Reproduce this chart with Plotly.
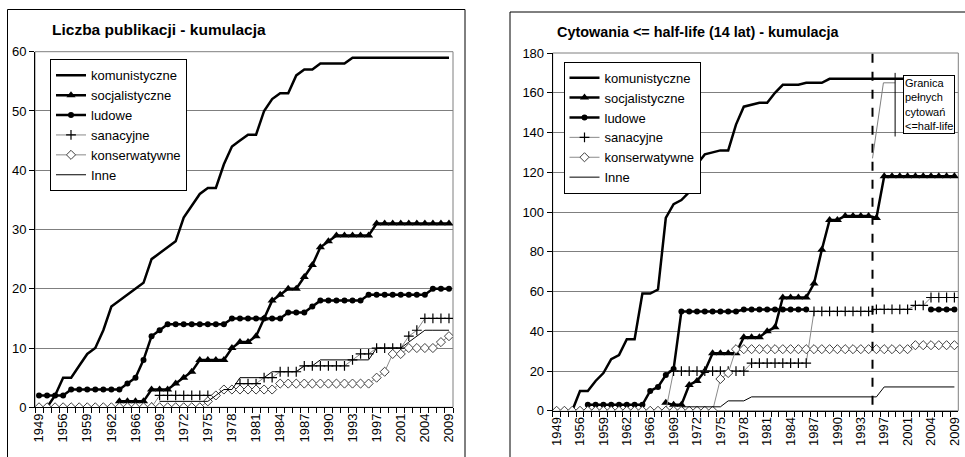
import plotly.graph_objects as go

# ---------------- data ----------------
years = ["1949", "1951", "1954", "1956", "1957", "1958", "1959", "1960", "1961", "1962",
         "1963", "1965", "1966", "1967", "1968", "1969", "1970", "1971", "1972", "1973",
         "1974", "1975", "1976", "1977", "1978", "1979", "1980", "1981", "1982", "1983",
         "1984", "1985", "1986", "1987", "1988", "1989", "1990", "1991", "1992", "1993",
         "1995", "1996", "1997", "1998", "2000", "2001", "2002", "2003", "2004", "2006",
         "2007", "2009"]
labeled_years = ["1949", "1956", "1959", "1962", "1966", "1969", "1972", "1975", "1978",
                 "1981", "1984", "1987", "1990", "1993", "1997", "2001", "2004", "2009"]
series_names = ["komunistyczne", "socjalistyczne", "ludowe", "sanacyjne", "konserwatywne", "Inne"]

N = None
# Left chart: Liczba publikacji - kumulacja
pub_komunistyczne = [N, 0, 2, 5, 5, 7, 9, 10, 13, 17, 18, 19, 20, 21, 25, 26, 27, 28, 32, 34,
                     36, 37, 37, 41, 44, 45, 46, 46, 50, 52, 53, 53, 56, 57, 57, 58, 58, 58, 58, 59,
                     59, 59, 59, 59, 59, 59, 59, 59, 59, 59, 59, 59]
pub_socjalistyczne = [N, N, N, N, N, N, N, N, N, N, 1, 1, 1, 1, 3, 3, 3, 4, 5, 6,
                      8, 8, 8, 8, 10, 11, 11, 12, 15, 18, 19, 20, 20, 22, 24, 27, 28, 29, 29, 29,
                      29, 29, 31, 31, 31, 31, 31, 31, 31, 31, 31, 31]
pub_ludowe = [2, 2, 2, 2, 3, 3, 3, 3, 3, 3, 3, 4, 5, 8, 12, 13, 14, 14, 14, 14,
              14, 14, 14, 14, 15, 15, 15, 15, 15, 15, 15, 16, 16, 16, 17, 18, 18, 18, 18, 18,
              18, 19, 19, 19, 19, 19, 19, 19, 19, 20, 20, 20]
pub_sanacyjne = [N, N, N, N, N, N, N, N, N, N, N, N, N, N, 0, 2, 2, 2, 2, 2,
                 2, 2, N, N, N, 4, 4, 4, 5, 5, 6, 6, 6, 7, 7, 7, 7, 7, 7, 8,
                 9, 9, 10, 10, 10, 10, 12, 13, 15, 15, 15, 15]
pub_konserwatywne = [0, 0, 0, 0, 0, 0, 0, 0, 0, 0, 0, 0, 0, 0, 0, 0, 0, 0, 0, 0,
                     0, 1, 2, 3, 3, 3, 3, 3, 3, 3, 4, 4, 4, 4, 4, 4, 4, 4, 4, 4,
                     4, 4, 5, 6, 9, 9, 10, 10, 10, 10, 11, 12]
pub_inne = [N, N, N, N, N, N, N, N, N, N, N, N, N, N, N, 1, 1, 1, 1, 1,
            1, 1, 2, 3, 3, 5, 5, 5, 5, 6, 6, 6, 6, 7, 7, 8, 8, 8, 8, 8,
            8, 8, 10, 10, 10, 10, 11, 12, 13, 13, 13, 13]

# Right chart: Cytowania <= half-life (14 lat) - kumulacja
cit_komunistyczne = [N, N, 0, 10, 10, 15, 19, 26, 28, 36, 36, 59, 59, 61, 97, 104, 106, 110, 124, 129,
                     130, 131, 131, 144, 153, 154, 155, 155, 160, 164, 164, 164, 165, 165, 165, 167, 167, 167, 167, 167,
                     167, 167, 167, 167, 167, 167, 167, 167, 167, 167, 167, 167]
cit_socjalistyczne = [N, N, N, N, N, N, N, N, N, N, N, N, N, N, 4, 3, 3, 13, 15, 20,
                      29, 29, 29, 29, 37, 37, 37, 40, 42, 57, 57, 57, 57, 64, 81, 96, 96, 98, 98, 98,
                      98, 97, 118, 118, 118, 118, 118, 118, 118, 118, 118, 118]
cit_ludowe = [N, N, N, N, 3, 3, 3, 3, 3, 3, 3, 3, 10, 12, 18, 21, 50, 50, 50, 50,
              50, 50, 50, 50, 51, 51, 51, 51, 51, 51, 51, 51, 51, N, N, N, N, N, N, N,
              N, N, N, N, N, N, N, N, 51, 51, 51, 51]
cit_sanacyjne = [N, N, N, N, N, N, N, N, N, N, N, N, N, N, 0, 20, 20, 20, 20, 20,
                 20, 20, 20, 20, 20, 24, 24, 24, 24, 24, 24, 24, 24, 50, 50, 50, 50, 50, 50, 50,
                 50, 51, 51, 51, 51, 51, 53, 53, 57, 57, 57, 57]
cit_konserwatywne = [0, 0, 0, 0, 0, 0, 0, 0, 0, 0, 0, 0, 0, 0, 0, 0, 0, 0, 0, 0,
                     0, 16, 19, 31, 31, 31, 31, 31, 31, 31, 31, 31, 31, 31, 31, 31, 31, 31, 31, 31,
                     31, 31, 31, 31, 31, 31, 33, 33, 33, 33, 33, 33]
cit_inne = [N, N, N, N, N, N, N, N, N, N, N, N, N, N, N, N, 2, 2, 2, 2,
            2, 2, 5, 5, 5, 7, 7, 7, 7, 7, 7, 7, 7, 7, 7, 7, 7, 7, 7, 7,
            7, 7, 12, 12, 12, 12, 12, 12, 12, 12, 12, 12]

pub_series = [pub_komunistyczne, pub_socjalistyczne, pub_ludowe, pub_sanacyjne, pub_konserwatywne, pub_inne]
cit_series = [cit_komunistyczne, cit_socjalistyczne, cit_ludowe, cit_sanacyjne, cit_konserwatywne, cit_inne]

left_title = "Liczba publikacji - kumulacja"
right_title = "Cytowania &lt;= half-life (14 lat) - kumulacja"
note_text = "Granica<br>pełnych<br>cytowań<br>&lt;=half-life"

# ---------------- styles ----------------
FONT = "Liberation Sans, Arial, sans-serif"
W, H = 965, 457
styles = {
    "komunistyczne": dict(mode="lines", line=dict(color="black", width=2.5)),
    "socjalistyczne": dict(mode="lines+markers", line=dict(color="black", width=2.5),
                           marker=dict(symbol="triangle-up", size=8, color="black")),
    "ludowe": dict(mode="lines+markers", line=dict(color="black", width=2.5),
                   marker=dict(symbol="circle", size=6, color="black")),
    "sanacyjne": dict(mode="lines+markers", line=dict(color="#8a8a8a", width=1),
                      marker=dict(symbol="cross-thin", size=7, color="black",
                                  line=dict(color="black", width=1.2))),
    "konserwatywne": dict(mode="lines+markers", line=dict(color="#8a8a8a", width=1),
                          marker=dict(symbol="diamond", size=7, color="white",
                                      line=dict(color="#404040", width=1))),
    "Inne": dict(mode="lines", line=dict(color="black", width=1)),
}

fig = go.Figure()
for name, y in zip(series_names, pub_series):
    fig.add_trace(go.Scatter(x=years, y=y, name=name, xaxis="x", yaxis="y",
                             legend="legend", **styles[name]))
for name, y in zip(series_names, cit_series):
    fig.add_trace(go.Scatter(x=years, y=y, name=name, xaxis="x2", yaxis="y2",
                             legend="legend2", **styles[name]))

ticktext = [yr if yr in labeled_years else "" for yr in years]

def xax(domain, anchor):
    return dict(domain=domain, anchor=anchor, type="category", categoryorder="array",
                categoryarray=years, range=[-0.5, len(years) - 0.5], tickmode="array",
                tickvals=years, ticktext=ticktext, tickson="boundaries", ticks="outside",
                ticklen=5, tickcolor="black", showline=True, linecolor="black", linewidth=1,
                showgrid=False, zeroline=False, tickangle=-90, automargin=False,
                tickfont=dict(family=FONT, size=13, color="black"))

def yax(domain, anchor, top, step):
    return dict(domain=domain, anchor=anchor, range=[0, top], dtick=step, tick0=0,
                ticks="outside", ticklen=5, tickcolor="black", showline=True,
                linecolor="black", linewidth=1, showgrid=True, gridcolor="#7f7f7f",
                gridwidth=1, zeroline=False, automargin=False,
                tickfont=dict(family=FONT, size=13, color="black"))

legend_common = dict(xanchor="left", yanchor="top", bgcolor="white", bordercolor="black",
                     borderwidth=1, font=dict(family=FONT, size=13, color="black"),
                     itemwidth=30)

fig.update_layout(
    width=W, height=H, margin=dict(l=0, r=0, t=0, b=0),
    paper_bgcolor="white", plot_bgcolor="white",
    font=dict(family=FONT, size=13, color="black"),
    xaxis=xax([35 / W, 453 / W], "y"),
    yaxis=yax([1 - 407.3 / H, 1 - 51.7 / H], "x", 60, 10),
    xaxis2=xax([552.7 / W, 958.3 / W], "y2"),
    yaxis2=yax([1 - 410.8 / H, 1 - 53 / H], "x2", 180, 20),
    legend=dict(x=50 / W, y=1 - 59.3 / H, **legend_common),
    legend2=dict(x=563.5 / W, y=1 - 61.7 / H, **legend_common),
)

shapes = [
    # outer chart frames
    dict(type="rect", xref="paper", yref="paper", x0=7.5 / W, x1=465 / W, y0=-0.05, y1=1 - 9.5 / H,
         line=dict(color="black", width=1)),
    dict(type="rect", xref="paper", yref="paper", x0=510 / W, x1=1.05, y0=-0.05, y1=1 - 12 / H,
         line=dict(color="black", width=1)),
    # plot-area frames
    dict(type="rect", xref="x domain", yref="y domain", x0=0, x1=1, y0=0, y1=1,
         line=dict(color="#7f7f7f", width=1), layer="below"),
    dict(type="rect", xref="x2 domain", yref="y2 domain", x0=0, x1=1, y0=0, y1=1,
         line=dict(color="#7f7f7f", width=1), layer="below"),
    # half-life boundary
    dict(type="line", xref="x2", yref="y2", x0=40.5, x1=40.5, y0=3, y1=180,
         line=dict(color="black", width=2, dash="dash")),
    dict(type="line", xref="x2", yref="y2", x0=40.5, x1=41.9, y0=127, y1=165,
         line=dict(color="#7f7f7f", width=1)),
    dict(type="line", xref="x2", yref="y2", x0=41.9, x1=43.4, y0=165, y1=165,
         line=dict(color="#7f7f7f", width=1)),
    dict(type="line", xref="x2", yref="y2", x0=43.4, x1=43.4, y0=138, y1=170,
         line=dict(color="black", width=1)),
]
fig.update_layout(shapes=shapes)

fig.add_annotation(text="<b>" + left_title + "</b>", xref="paper", yref="paper",
                   x=50 / W, y=1 - 29 / H, xanchor="left", yanchor="middle", showarrow=False,
                   font=dict(family=FONT, size=15.5, color="black"))
fig.add_annotation(text="<b>" + right_title + "</b>", xref="paper", yref="paper",
                   x=555 / W, y=1 - 32 / H, xanchor="left", yanchor="middle", showarrow=False,
                   font=dict(family=FONT, size=14.4, color="black"))
fig.add_annotation(text=note_text, xref="paper", yref="paper", x=903 / W, y=1 - 104.3 / H,
                   xanchor="left", yanchor="middle", align="left", showarrow=False,
                   bgcolor="white", bordercolor="black", borderwidth=1, borderpad=1,
                   font=dict(family=FONT, size=11, color="black"))

fig.write_html("out.html", config={"displayModeBar": False},
               post_script="document.body.style.margin='0px';document.body.style.overflow='hidden';")
